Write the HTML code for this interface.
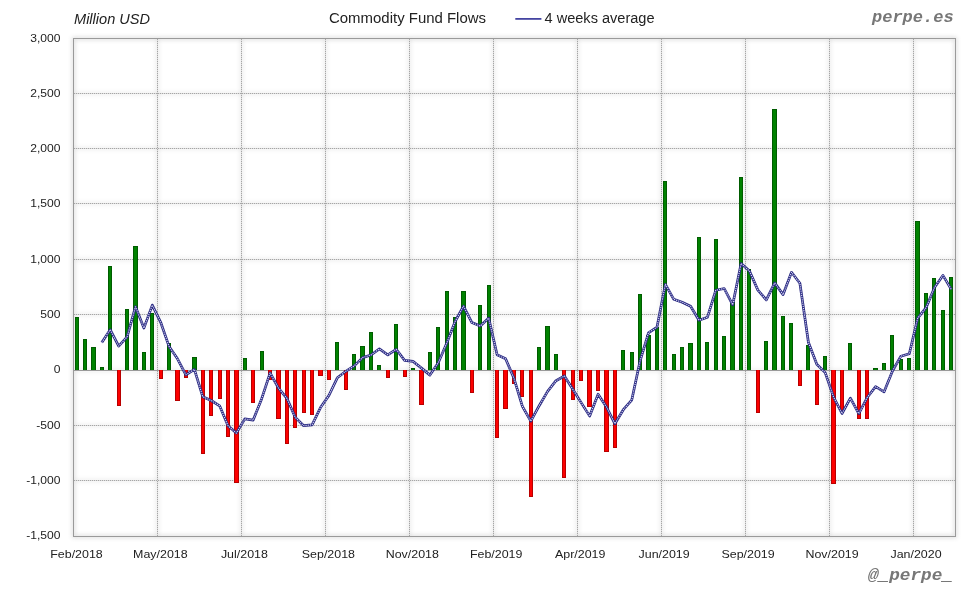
<!DOCTYPE html>
<html><head><meta charset="utf-8"><title>Commodity Fund Flows</title>
<style>
html,body{margin:0;padding:0;background:#fff;}
body{width:980px;height:600px;overflow:hidden;}
svg{display:block;}
text{font-family:"Liberation Sans",sans-serif;fill:#222;}
.ax{font-size:12px;}
.mono{font-family:"Liberation Mono",monospace;font-weight:bold;font-style:italic;fill:#777;}
</style></head><body>
<svg width="980" height="600" viewBox="0 0 980 600">
<defs><filter id="sh" x="-2%" y="-2%" width="104%" height="104%"><feGaussianBlur stdDeviation="2"/></filter></defs>
<rect x="0" y="0" width="980" height="600" fill="#fff"/>
<rect x="73.5" y="38.5" width="882.0" height="498.0" fill="#fff" stroke="#9c9c9c" stroke-width="1"/>
<g filter="url(#sh)" opacity="0.45" fill="none" stroke="#8a8a8a"><rect x="73.5" y="38.5" width="882.0" height="498.0" stroke-width="2"/><path d="M74 93.5H955M74 148.5H955M74 203.5H955M74 259.5H955M74 314.5H955M74 425.5H955M74 480.5H955M157.5 39V536M241.5 39V536M325.5 39V536M409.5 39V536M493.5 39V536M577.5 39V536M661.5 39V536M745.5 39V536M829.5 39V536M913.5 39V536M74 370.5H955" stroke-width="1.2"/></g>
<rect x="73.5" y="38.5" width="882.0" height="498.0" fill="none" stroke="#9a9a9a" stroke-width="1"/>
<path d="M74 93.5H955M74 148.5H955M74 203.5H955M74 259.5H955M74 314.5H955M74 425.5H955M74 480.5H955M157.5 39V536M241.5 39V536M325.5 39V536M409.5 39V536M493.5 39V536M577.5 39V536M661.5 39V536M745.5 39V536M829.5 39V536M913.5 39V536" stroke="#dedede" stroke-width="1" fill="none" shape-rendering="crispEdges"/>
<path d="M74 93.5H955M74 148.5H955M74 203.5H955M74 259.5H955M74 314.5H955M74 425.5H955M74 480.5H955M157.5 39V536M241.5 39V536M325.5 39V536M409.5 39V536M493.5 39V536M577.5 39V536M661.5 39V536M745.5 39V536M829.5 39V536M913.5 39V536" stroke="#a6a6a6" stroke-width="1" stroke-dasharray="1 1" fill="none" shape-rendering="crispEdges"/>
<path d="M74 370.5H955" stroke="#9a9a9a" stroke-width="1" shape-rendering="crispEdges"/>
<g shape-rendering="crispEdges">
<rect x="75" y="317" width="4" height="53" fill="#005c00"/><rect x="76" y="318" width="2" height="52" fill="#008200"/><rect x="83" y="339" width="4" height="31" fill="#005c00"/><rect x="84" y="340" width="2" height="30" fill="#008200"/><rect x="91" y="347" width="5" height="23" fill="#005c00"/><rect x="92" y="348" width="3" height="22" fill="#008200"/><rect x="100" y="367" width="4" height="3" fill="#005c00"/><rect x="101" y="368" width="2" height="2" fill="#008200"/><rect x="108" y="266" width="4" height="104" fill="#005c00"/><rect x="109" y="267" width="2" height="103" fill="#008200"/><rect x="117" y="370" width="4" height="36" fill="#b80000"/><rect x="118" y="370" width="2" height="35" fill="#fc0000"/><rect x="125" y="309" width="4" height="61" fill="#005c00"/><rect x="126" y="310" width="2" height="60" fill="#008200"/><rect x="133" y="246" width="5" height="124" fill="#005c00"/><rect x="134" y="247" width="3" height="123" fill="#008200"/><rect x="142" y="352" width="4" height="18" fill="#005c00"/><rect x="143" y="353" width="2" height="17" fill="#008200"/><rect x="150" y="313" width="4" height="57" fill="#005c00"/><rect x="151" y="314" width="2" height="56" fill="#008200"/><rect x="159" y="370" width="4" height="9" fill="#b80000"/><rect x="160" y="370" width="2" height="8" fill="#fc0000"/><rect x="167" y="343" width="4" height="27" fill="#005c00"/><rect x="168" y="344" width="2" height="26" fill="#008200"/><rect x="175" y="370" width="5" height="31" fill="#b80000"/><rect x="176" y="370" width="3" height="30" fill="#fc0000"/><rect x="184" y="370" width="4" height="8" fill="#b80000"/><rect x="185" y="370" width="2" height="7" fill="#fc0000"/><rect x="192" y="357" width="5" height="13" fill="#005c00"/><rect x="193" y="358" width="3" height="12" fill="#008200"/><rect x="201" y="370" width="4" height="84" fill="#b80000"/><rect x="202" y="370" width="2" height="83" fill="#fc0000"/><rect x="209" y="370" width="4" height="46" fill="#b80000"/><rect x="210" y="370" width="2" height="45" fill="#fc0000"/><rect x="218" y="370" width="4" height="29" fill="#b80000"/><rect x="219" y="370" width="2" height="28" fill="#fc0000"/><rect x="226" y="370" width="4" height="67" fill="#b80000"/><rect x="227" y="370" width="2" height="66" fill="#fc0000"/><rect x="234" y="370" width="5" height="113" fill="#b80000"/><rect x="235" y="370" width="3" height="112" fill="#fc0000"/><rect x="243" y="358" width="4" height="12" fill="#005c00"/><rect x="244" y="359" width="2" height="11" fill="#008200"/><rect x="251" y="370" width="4" height="33" fill="#b80000"/><rect x="252" y="370" width="2" height="32" fill="#fc0000"/><rect x="260" y="351" width="4" height="19" fill="#005c00"/><rect x="261" y="352" width="2" height="18" fill="#008200"/><rect x="268" y="370" width="4" height="10" fill="#b80000"/><rect x="269" y="370" width="2" height="9" fill="#fc0000"/><rect x="276" y="370" width="5" height="49" fill="#b80000"/><rect x="277" y="370" width="3" height="48" fill="#fc0000"/><rect x="285" y="370" width="4" height="74" fill="#b80000"/><rect x="286" y="370" width="2" height="73" fill="#fc0000"/><rect x="293" y="370" width="4" height="58" fill="#b80000"/><rect x="294" y="370" width="2" height="57" fill="#fc0000"/><rect x="302" y="370" width="4" height="43" fill="#b80000"/><rect x="303" y="370" width="2" height="42" fill="#fc0000"/><rect x="310" y="370" width="4" height="45" fill="#b80000"/><rect x="311" y="370" width="2" height="44" fill="#fc0000"/><rect x="318" y="370" width="5" height="6" fill="#b80000"/><rect x="319" y="370" width="3" height="5" fill="#fc0000"/><rect x="327" y="370" width="4" height="10" fill="#b80000"/><rect x="328" y="370" width="2" height="9" fill="#fc0000"/><rect x="335" y="342" width="4" height="28" fill="#005c00"/><rect x="336" y="343" width="2" height="27" fill="#008200"/><rect x="344" y="370" width="4" height="20" fill="#b80000"/><rect x="345" y="370" width="2" height="19" fill="#fc0000"/><rect x="352" y="354" width="4" height="16" fill="#005c00"/><rect x="353" y="355" width="2" height="15" fill="#008200"/><rect x="360" y="346" width="5" height="24" fill="#005c00"/><rect x="361" y="347" width="3" height="23" fill="#008200"/><rect x="369" y="332" width="4" height="38" fill="#005c00"/><rect x="370" y="333" width="2" height="37" fill="#008200"/><rect x="377" y="365" width="4" height="5" fill="#005c00"/><rect x="378" y="366" width="2" height="4" fill="#008200"/><rect x="386" y="370" width="4" height="8" fill="#b80000"/><rect x="387" y="370" width="2" height="7" fill="#fc0000"/><rect x="394" y="324" width="4" height="46" fill="#005c00"/><rect x="395" y="325" width="2" height="45" fill="#008200"/><rect x="403" y="370" width="4" height="7" fill="#b80000"/><rect x="404" y="370" width="2" height="6" fill="#fc0000"/><rect x="411" y="368" width="4" height="2" fill="#005c00"/><rect x="412" y="369" width="2" height="1" fill="#008200"/><rect x="419" y="370" width="5" height="35" fill="#b80000"/><rect x="420" y="370" width="3" height="34" fill="#fc0000"/><rect x="428" y="352" width="4" height="18" fill="#005c00"/><rect x="429" y="353" width="2" height="17" fill="#008200"/><rect x="436" y="327" width="4" height="43" fill="#005c00"/><rect x="437" y="328" width="2" height="42" fill="#008200"/><rect x="445" y="291" width="4" height="79" fill="#005c00"/><rect x="446" y="292" width="2" height="78" fill="#008200"/><rect x="453" y="317" width="4" height="53" fill="#005c00"/><rect x="454" y="318" width="2" height="52" fill="#008200"/><rect x="461" y="291" width="5" height="79" fill="#005c00"/><rect x="462" y="292" width="3" height="78" fill="#008200"/><rect x="470" y="370" width="4" height="23" fill="#b80000"/><rect x="471" y="370" width="2" height="22" fill="#fc0000"/><rect x="478" y="305" width="4" height="65" fill="#005c00"/><rect x="479" y="306" width="2" height="64" fill="#008200"/><rect x="487" y="285" width="4" height="85" fill="#005c00"/><rect x="488" y="286" width="2" height="84" fill="#008200"/><rect x="495" y="370" width="4" height="68" fill="#b80000"/><rect x="496" y="370" width="2" height="67" fill="#fc0000"/><rect x="503" y="370" width="5" height="39" fill="#b80000"/><rect x="504" y="370" width="3" height="38" fill="#fc0000"/><rect x="512" y="370" width="4" height="14" fill="#b80000"/><rect x="513" y="370" width="2" height="13" fill="#fc0000"/><rect x="520" y="370" width="4" height="27" fill="#b80000"/><rect x="521" y="370" width="2" height="26" fill="#fc0000"/><rect x="529" y="370" width="4" height="127" fill="#b80000"/><rect x="530" y="370" width="2" height="126" fill="#fc0000"/><rect x="537" y="347" width="4" height="23" fill="#005c00"/><rect x="538" y="348" width="2" height="22" fill="#008200"/><rect x="545" y="326" width="5" height="44" fill="#005c00"/><rect x="546" y="327" width="3" height="43" fill="#008200"/><rect x="554" y="354" width="4" height="16" fill="#005c00"/><rect x="555" y="355" width="2" height="15" fill="#008200"/><rect x="562" y="370" width="4" height="108" fill="#b80000"/><rect x="563" y="370" width="2" height="107" fill="#fc0000"/><rect x="571" y="370" width="4" height="30" fill="#b80000"/><rect x="572" y="370" width="2" height="29" fill="#fc0000"/><rect x="579" y="370" width="4" height="11" fill="#b80000"/><rect x="580" y="370" width="2" height="10" fill="#fc0000"/><rect x="587" y="370" width="5" height="37" fill="#b80000"/><rect x="588" y="370" width="3" height="36" fill="#fc0000"/><rect x="596" y="370" width="4" height="21" fill="#b80000"/><rect x="597" y="370" width="2" height="20" fill="#fc0000"/><rect x="604" y="370" width="5" height="82" fill="#b80000"/><rect x="605" y="370" width="3" height="81" fill="#fc0000"/><rect x="613" y="370" width="4" height="78" fill="#b80000"/><rect x="614" y="370" width="2" height="77" fill="#fc0000"/><rect x="621" y="350" width="4" height="20" fill="#005c00"/><rect x="622" y="351" width="2" height="19" fill="#008200"/><rect x="630" y="352" width="4" height="18" fill="#005c00"/><rect x="631" y="353" width="2" height="17" fill="#008200"/><rect x="638" y="294" width="4" height="76" fill="#005c00"/><rect x="639" y="295" width="2" height="75" fill="#008200"/><rect x="646" y="335" width="5" height="35" fill="#005c00"/><rect x="647" y="336" width="3" height="34" fill="#008200"/><rect x="655" y="327" width="4" height="43" fill="#005c00"/><rect x="656" y="328" width="2" height="42" fill="#008200"/><rect x="663" y="181" width="4" height="189" fill="#005c00"/><rect x="664" y="182" width="2" height="188" fill="#008200"/><rect x="672" y="354" width="4" height="16" fill="#005c00"/><rect x="673" y="355" width="2" height="15" fill="#008200"/><rect x="680" y="347" width="4" height="23" fill="#005c00"/><rect x="681" y="348" width="2" height="22" fill="#008200"/><rect x="688" y="343" width="5" height="27" fill="#005c00"/><rect x="689" y="344" width="3" height="26" fill="#008200"/><rect x="697" y="237" width="4" height="133" fill="#005c00"/><rect x="698" y="238" width="2" height="132" fill="#008200"/><rect x="705" y="342" width="4" height="28" fill="#005c00"/><rect x="706" y="343" width="2" height="27" fill="#008200"/><rect x="714" y="239" width="4" height="131" fill="#005c00"/><rect x="715" y="240" width="2" height="130" fill="#008200"/><rect x="722" y="336" width="4" height="34" fill="#005c00"/><rect x="723" y="337" width="2" height="33" fill="#008200"/><rect x="730" y="302" width="5" height="68" fill="#005c00"/><rect x="731" y="303" width="3" height="67" fill="#008200"/><rect x="739" y="177" width="4" height="193" fill="#005c00"/><rect x="740" y="178" width="2" height="192" fill="#008200"/><rect x="747" y="269" width="4" height="101" fill="#005c00"/><rect x="748" y="270" width="2" height="100" fill="#008200"/><rect x="756" y="370" width="4" height="43" fill="#b80000"/><rect x="757" y="370" width="2" height="42" fill="#fc0000"/><rect x="764" y="341" width="4" height="29" fill="#005c00"/><rect x="765" y="342" width="2" height="28" fill="#008200"/><rect x="772" y="109" width="5" height="261" fill="#005c00"/><rect x="773" y="110" width="3" height="260" fill="#008200"/><rect x="781" y="316" width="4" height="54" fill="#005c00"/><rect x="782" y="317" width="2" height="53" fill="#008200"/><rect x="789" y="323" width="4" height="47" fill="#005c00"/><rect x="790" y="324" width="2" height="46" fill="#008200"/><rect x="798" y="370" width="4" height="16" fill="#b80000"/><rect x="799" y="370" width="2" height="15" fill="#fc0000"/><rect x="806" y="345" width="4" height="25" fill="#005c00"/><rect x="807" y="346" width="2" height="24" fill="#008200"/><rect x="815" y="370" width="4" height="35" fill="#b80000"/><rect x="816" y="370" width="2" height="34" fill="#fc0000"/><rect x="823" y="356" width="4" height="14" fill="#005c00"/><rect x="824" y="357" width="2" height="13" fill="#008200"/><rect x="831" y="370" width="5" height="114" fill="#b80000"/><rect x="832" y="370" width="3" height="113" fill="#fc0000"/><rect x="840" y="370" width="4" height="41" fill="#b80000"/><rect x="841" y="370" width="2" height="40" fill="#fc0000"/><rect x="848" y="343" width="4" height="27" fill="#005c00"/><rect x="849" y="344" width="2" height="26" fill="#008200"/><rect x="857" y="370" width="4" height="49" fill="#b80000"/><rect x="858" y="370" width="2" height="48" fill="#fc0000"/><rect x="865" y="370" width="4" height="49" fill="#b80000"/><rect x="866" y="370" width="2" height="48" fill="#fc0000"/><rect x="873" y="368" width="5" height="2" fill="#005c00"/><rect x="874" y="369" width="3" height="1" fill="#008200"/><rect x="882" y="363" width="4" height="7" fill="#005c00"/><rect x="883" y="364" width="2" height="6" fill="#008200"/><rect x="890" y="335" width="4" height="35" fill="#005c00"/><rect x="891" y="336" width="2" height="34" fill="#008200"/><rect x="899" y="359" width="4" height="11" fill="#005c00"/><rect x="900" y="360" width="2" height="10" fill="#008200"/><rect x="907" y="358" width="4" height="12" fill="#005c00"/><rect x="908" y="359" width="2" height="11" fill="#008200"/><rect x="915" y="221" width="5" height="149" fill="#005c00"/><rect x="916" y="222" width="3" height="148" fill="#008200"/><rect x="924" y="293" width="4" height="77" fill="#005c00"/><rect x="925" y="294" width="2" height="76" fill="#008200"/><rect x="932" y="278" width="4" height="92" fill="#005c00"/><rect x="933" y="279" width="2" height="91" fill="#008200"/><rect x="941" y="310" width="4" height="60" fill="#005c00"/><rect x="942" y="311" width="2" height="59" fill="#008200"/><rect x="949" y="277" width="4" height="93" fill="#005c00"/><rect x="950" y="278" width="2" height="92" fill="#008200"/>
</g>
<polyline points="101.8,342.5 110.2,329.7 118.7,346.1 127.1,336.9 135.5,306.7 143.9,328.1 152.3,305.1 160.7,322.3 169.1,346.6 177.5,358.8 185.9,374.8 194.4,369.4 202.8,396.8 211.2,400.5 219.6,405.8 228.0,425.7 236.4,433.1 244.8,418.9 253.2,420.1 261.6,398.9 270.1,373.0 278.5,388.1 286.9,398.3 295.3,417.4 303.7,425.7 312.1,424.8 320.5,407.6 328.9,395.5 337.3,377.8 345.8,371.3 354.2,365.9 362.6,357.6 371.0,355.0 379.4,348.9 387.8,354.8 396.2,349.3 404.6,360.4 413.0,361.4 421.5,368.1 429.9,375.1 438.3,362.7 446.7,343.3 455.1,321.5 463.5,306.2 471.9,322.6 480.3,326.1 488.7,318.1 497.1,354.7 505.6,358.8 514.0,378.4 522.4,406.3 530.8,421.2 539.2,405.7 547.6,391.4 556.0,380.7 564.4,376.0 572.8,389.3 581.3,402.9 589.7,416.1 598.1,394.2 606.5,407.0 614.9,423.8 623.3,409.7 631.7,400.2 640.1,360.9 648.5,332.8 657.0,327.1 665.4,284.3 673.8,299.3 682.2,302.3 690.6,306.2 699.0,320.2 707.4,317.3 715.8,290.2 724.2,288.5 732.7,304.8 741.1,263.5 749.5,271.1 757.9,290.1 766.3,299.9 774.7,282.9 783.1,294.6 791.5,272.3 799.9,283.3 808.4,342.3 816.8,364.3 825.2,372.6 833.6,397.1 842.0,413.5 850.4,398.2 858.8,413.7 867.2,397.5 875.6,386.7 884.1,391.8 892.5,371.0 900.9,356.2 909.3,353.8 917.7,318.2 926.1,307.7 934.5,287.4 942.9,275.4 951.3,289.4" fill="none" stroke="#2a2a82" stroke-width="2.7" stroke-linejoin="round"/>
<polyline points="101.8,342.5 110.2,329.7 118.7,346.1 127.1,336.9 135.5,306.7 143.9,328.1 152.3,305.1 160.7,322.3 169.1,346.6 177.5,358.8 185.9,374.8 194.4,369.4 202.8,396.8 211.2,400.5 219.6,405.8 228.0,425.7 236.4,433.1 244.8,418.9 253.2,420.1 261.6,398.9 270.1,373.0 278.5,388.1 286.9,398.3 295.3,417.4 303.7,425.7 312.1,424.8 320.5,407.6 328.9,395.5 337.3,377.8 345.8,371.3 354.2,365.9 362.6,357.6 371.0,355.0 379.4,348.9 387.8,354.8 396.2,349.3 404.6,360.4 413.0,361.4 421.5,368.1 429.9,375.1 438.3,362.7 446.7,343.3 455.1,321.5 463.5,306.2 471.9,322.6 480.3,326.1 488.7,318.1 497.1,354.7 505.6,358.8 514.0,378.4 522.4,406.3 530.8,421.2 539.2,405.7 547.6,391.4 556.0,380.7 564.4,376.0 572.8,389.3 581.3,402.9 589.7,416.1 598.1,394.2 606.5,407.0 614.9,423.8 623.3,409.7 631.7,400.2 640.1,360.9 648.5,332.8 657.0,327.1 665.4,284.3 673.8,299.3 682.2,302.3 690.6,306.2 699.0,320.2 707.4,317.3 715.8,290.2 724.2,288.5 732.7,304.8 741.1,263.5 749.5,271.1 757.9,290.1 766.3,299.9 774.7,282.9 783.1,294.6 791.5,272.3 799.9,283.3 808.4,342.3 816.8,364.3 825.2,372.6 833.6,397.1 842.0,413.5 850.4,398.2 858.8,413.7 867.2,397.5 875.6,386.7 884.1,391.8 892.5,371.0 900.9,356.2 909.3,353.8 917.7,318.2 926.1,307.7 934.5,287.4 942.9,275.4 951.3,289.4" fill="none" stroke="#dcdcf8" stroke-width="1.1" stroke-dasharray="1.2 1" stroke-linejoin="round"/>
<text x="60.5" y="42" font-size="11.5" text-anchor="end" textLength="30.22" lengthAdjust="spacingAndGlyphs">3,000</text>
<text x="60.5" y="97" font-size="11.5" text-anchor="end" textLength="30.22" lengthAdjust="spacingAndGlyphs">2,500</text>
<text x="60.5" y="152" font-size="11.5" text-anchor="end" textLength="30.22" lengthAdjust="spacingAndGlyphs">2,000</text>
<text x="60.5" y="207" font-size="11.5" text-anchor="end" textLength="30.22" lengthAdjust="spacingAndGlyphs">1,500</text>
<text x="60.5" y="263" font-size="11.5" text-anchor="end" textLength="30.22" lengthAdjust="spacingAndGlyphs">1,000</text>
<text x="60.5" y="318" font-size="11.5" text-anchor="end" textLength="20.15" lengthAdjust="spacingAndGlyphs">500</text>
<text x="60.5" y="373" font-size="11.5" text-anchor="end" textLength="6.72" lengthAdjust="spacingAndGlyphs">0</text>
<text x="60.5" y="429" font-size="11.5" text-anchor="end" textLength="24.17" lengthAdjust="spacingAndGlyphs">-500</text>
<text x="60.5" y="484" font-size="11.5" text-anchor="end" textLength="34.24" lengthAdjust="spacingAndGlyphs">-1,000</text>
<text x="60.5" y="539" font-size="11.5" text-anchor="end" textLength="34.24" lengthAdjust="spacingAndGlyphs">-1,500</text>
<text x="76.5" y="558" font-size="11.5" text-anchor="middle" textLength="52.48" lengthAdjust="spacingAndGlyphs">Feb/2018</text>
<text x="160.4" y="558" font-size="11.5" text-anchor="middle" textLength="54.54" lengthAdjust="spacingAndGlyphs">May/2018</text>
<text x="244.4" y="558" font-size="11.5" text-anchor="middle" textLength="46.96" lengthAdjust="spacingAndGlyphs">Jul/2018</text>
<text x="328.4" y="558" font-size="11.5" text-anchor="middle" textLength="53.18" lengthAdjust="spacingAndGlyphs">Sep/2018</text>
<text x="412.3" y="558" font-size="11.5" text-anchor="middle" textLength="53.17" lengthAdjust="spacingAndGlyphs">Nov/2018</text>
<text x="496.2" y="558" font-size="11.5" text-anchor="middle" textLength="52.48" lengthAdjust="spacingAndGlyphs">Feb/2019</text>
<text x="580.2" y="558" font-size="11.5" text-anchor="middle" textLength="50.41" lengthAdjust="spacingAndGlyphs">Apr/2019</text>
<text x="664.1" y="558" font-size="11.5" text-anchor="middle" textLength="51.11" lengthAdjust="spacingAndGlyphs">Jun/2019</text>
<text x="748.1" y="558" font-size="11.5" text-anchor="middle" textLength="53.18" lengthAdjust="spacingAndGlyphs">Sep/2019</text>
<text x="832.1" y="558" font-size="11.5" text-anchor="middle" textLength="53.17" lengthAdjust="spacingAndGlyphs">Nov/2019</text>
<text x="916.0" y="558" font-size="11.5" text-anchor="middle" textLength="51.11" lengthAdjust="spacingAndGlyphs">Jan/2020</text>
<text x="74" y="24" font-size="14" text-anchor="start" textLength="76.05" lengthAdjust="spacingAndGlyphs" font-style="italic">Million USD</text>
<text x="329" y="23" font-size="14" text-anchor="start" textLength="157.04" lengthAdjust="spacingAndGlyphs">Commodity Fund Flows</text>
<path d="M515.3 18.9H541.4" stroke="#3a3a9c" stroke-width="1.7"/>
<text x="544.5" y="23" font-size="14" text-anchor="start" textLength="110.07" lengthAdjust="spacingAndGlyphs">4 weeks average</text>
<text class="mono" x="872" y="21.7" font-size="17">perpe.es</text>
<text class="mono" x="867.9" y="580.4" font-size="17.2" textLength="85" lengthAdjust="spacingAndGlyphs">@_perpe_</text>
</svg></body></html>
